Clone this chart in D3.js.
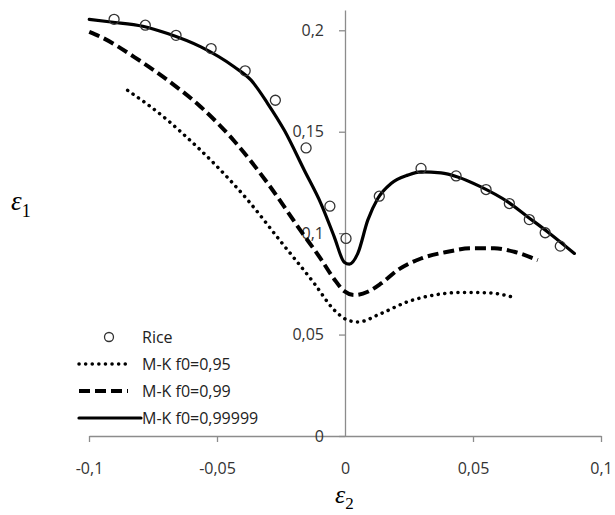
<!DOCTYPE html>
<html>
<head>
<meta charset="utf-8">
<script src="https://cdn.jsdelivr.net/npm/d3@7"></script>
<style>
  body { margin: 0; background: #fff; }
  svg { display: block; }
  .tick text { font-family: "Open Sans", sans-serif; font-size: 16px; fill: #333; }
  .legend text { font-family: "Open Sans", sans-serif; font-size: 16px; fill: #222; }
</style>
</head>
<body>
<div id="chart"></div>
<script>
// valeurs (epsilon2 en x, epsilon1 en y)

var riceX = [-0.0902, -0.078, -0.066, -0.0523, -0.039, -0.0272, -0.0152, -0.0059, 0.0004,
             0.0134, 0.0297, 0.0434, 0.0551, 0.0642, 0.072, 0.0782, 0.0841];
var riceY = [0.2054, 0.2025, 0.1975, 0.191, 0.180, 0.1655, 0.142, 0.1133, 0.0974,
             0.1182, 0.1319, 0.1282, 0.1215, 0.1146, 0.1067, 0.1002, 0.0936];

var mk095X = [-0.0849, -0.0693, -0.0641, -0.0511, -0.038, -0.025, -0.012, -0.0042, 0.0011,
              0.0051, 0.0141, 0.0245, 0.0349, 0.0453, 0.0557, 0.0668];
var mk095Y = [0.1704, 0.1557, 0.1499, 0.1343, 0.1163, 0.0957, 0.0752, 0.0621, 0.0571,
              0.0562, 0.0604, 0.0662, 0.0695, 0.0708, 0.0706, 0.0681];

var mk099X = [-0.0999, -0.0953, -0.0823, -0.0693, -0.0563, -0.0432, -0.0302, -0.0172, -0.0094,
              -0.0042, -0.0003, 0.0036, 0.0089, 0.0141, 0.0206, 0.0297, 0.0401, 0.0492, 0.0583,
              0.0661, 0.0753];
var mk099Y = [0.1992, 0.1967, 0.1868, 0.1754, 0.1622, 0.1453, 0.1246, 0.1010, 0.0872,
              0.0773, 0.0714, 0.0695, 0.0711, 0.0752, 0.0818, 0.0875, 0.0908, 0.0925, 0.0925,
              0.0908, 0.0867];

var mk09999X = [-0.0999, -0.0914, -0.079, -0.0693, -0.0563, -0.0432, -0.0367, -0.0302, -0.0237,
                -0.0159, -0.0094, -0.0042, -0.0003, 0.0017, 0.005, 0.0089, 0.0128, 0.018, 0.0245,
                0.0297, 0.0375, 0.044, 0.0531, 0.0636, 0.0714, 0.0792, 0.0896];
var mk09999Y = [0.2054, 0.2041, 0.2020, 0.1984, 0.1918, 0.1819, 0.1754, 0.1639, 0.1507,
                0.1310, 0.1146, 0.0982, 0.0857, 0.0847, 0.090, 0.1064, 0.1171, 0.1245, 0.1286,
                0.1302, 0.1297, 0.1277, 0.1228, 0.1154, 0.108, 0.1006, 0.09];

var xTicks = [-0.1, -0.05, 0, 0.05, 0.1];
var yTicks = [0, 0.05, 0.1, 0.15, 0.2];
var legendLabels = ["Rice", "M-K f0=0,95", "M-K f0=0,99", "M-K f0=0,99999"];

var width = 615, height = 515;

var svg = d3.select("#chart").append("svg")
    .attr("width", width)
    .attr("height", height);

var x = d3.scaleLinear().domain([-0.1, 0.1]).range([89, 601]);
var y = d3.scaleLinear().domain([0, 0.21]).range([436, 10]);

// virgule décimale
var fr = d3.formatLocale({decimal: ",", thousands: " ", grouping: [3], currency: ["", ""], minus: "-"});
var fmt = fr.format("~g");

// axes croisés en (0,0)
var xAxis = svg.append("g")
    .attr("transform", "translate(0," + y(0) + ")")
    .call(d3.axisBottom(x).tickValues(xTicks).tickFormat(fmt).tickSizeInner(6).tickSizeOuter(0).tickPadding(21));

var yAxis = svg.append("g")
    .attr("transform", "translate(" + x(0) + ",0)")
    .call(d3.axisLeft(y).tickValues(yTicks).tickFormat(fmt).tickSizeInner(6).tickSizeOuter(0).tickPadding(15));

svg.selectAll(".domain, .tick line").attr("stroke", "#8c8c8c").attr("stroke-width", 1.3);
// pas de graduation 0 en double sur l'axe x
xAxis.selectAll(".tick").filter(function(d) { return d === 0; }).select("line").remove();

// titres des axes
var e1 = svg.append("text")
    .attr("x", 11).attr("y", 210)
    .style("font-family", "'Liberation Serif', serif").style("font-size", "27px");
e1.append("tspan").style("font-style", "italic").text("ε");
e1.append("tspan").attr("dy", 7).style("font-size", "18px").text("1");

var e2 = svg.append("text")
    .attr("x", 335).attr("y", 503)
    .style("font-family", "'Liberation Serif', serif").style("font-size", "26px");
e2.append("tspan").style("font-style", "italic").text("ε");
e2.append("tspan").attr("dy", 6).style("font-size", "17px").text("2");

// courbes
var line = d3.line()
    .x(function(d) { return x(d[0]); })
    .y(function(d) { return y(d[1]); })
    .curve(d3.curveMonotoneX);

var series = [
  {xs: mk095X, ys: mk095Y, width: 3.5, dash: "0.1,6.5", cap: "round"},
  {xs: mk099X, ys: mk099Y, width: 4, dash: "11,5", cap: "butt"},
  {xs: mk09999X, ys: mk09999Y, width: 3.2, dash: null, cap: "round"}
];

series.forEach(function(s) {
  svg.append("path")
      .datum(d3.zip(s.xs, s.ys))
      .attr("d", line)
      .attr("fill", "none")
      .attr("stroke", "#000")
      .attr("stroke-width", s.width)
      .attr("stroke-linecap", s.cap)
      .attr("stroke-dasharray", s.dash);
});

svg.append("g").selectAll("circle")
    .data(d3.zip(riceX, riceY))
  .enter().append("circle")
    .attr("cx", function(d) { return x(d[0]); })
    .attr("cy", function(d) { return y(d[1]); })
    .attr("r", 5)
    .attr("fill", "none")
    .attr("stroke", "#333")
    .attr("stroke-width", 1.3);

// légende
var lg = svg.append("g").attr("class", "legend");
var rowY = [337, 364, 391, 418];

lg.append("circle").attr("cx", 109).attr("cy", rowY[0]).attr("r", 4.5)
    .attr("fill", "none").attr("stroke", "#333").attr("stroke-width", 1.3);

series.forEach(function(s, i) {
  lg.append("line")
      .attr("x1", 79).attr("x2", i === 2 ? 141 : 128)
      .attr("y1", rowY[i + 1]).attr("y2", rowY[i + 1])
      .attr("stroke", "#000")
      .attr("stroke-width", s.width)
      .attr("stroke-linecap", s.cap)
      .attr("stroke-dasharray", s.dash);
});

lg.selectAll("text")
    .data(legendLabels)
  .enter().append("text")
    .attr("x", 142)
    .attr("y", function(d, i) { return rowY[i]; })
    .attr("dy", "0.35em")
    .text(function(d) { return d; });
</script>
</body>
</html>
